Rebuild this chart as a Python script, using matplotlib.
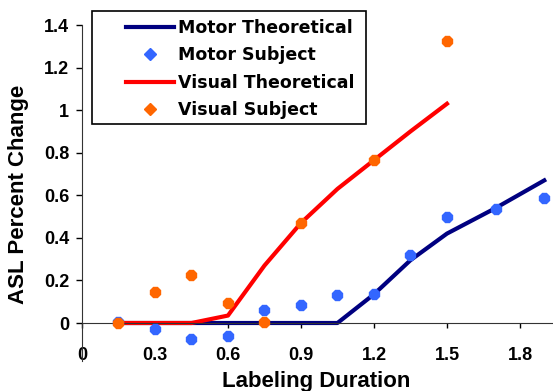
import matplotlib
matplotlib.use("Agg")
from matplotlib import pyplot as plt
from matplotlib.lines import Line2D
from matplotlib.patches import Rectangle

# values
motor_x = [0.15, 0.3, 0.45, 0.6, 0.75, 0.9, 1.05, 1.2, 1.35, 1.5, 1.7, 1.9]
motor_theory = [0, 0, 0, 0, 0, 0, 0, 0.135, 0.295, 0.42, 0.54, 0.67]
motor_subject = [0.005, -0.03, -0.075, -0.06, 0.06, 0.085, 0.13, 0.135, 0.32, 0.5, 0.535, 0.585]

visual_x = [0.15, 0.3, 0.45, 0.6, 0.75, 0.9, 1.05, 1.2, 1.35, 1.5]
visual_theory = [0, 0, 0, 0.035, 0.27, 0.47, 0.63, 0.765, 0.9, 1.03]
visual_subject = [0, 0.145, 0.225, 0.095, 0.005, 0.47, None, 0.765, None, 1.325]

xticks = [0, 0.3, 0.6, 0.9, 1.2, 1.5, 1.8]
xticklabels = ['0', '0.3', '0.6', '0.9', '1.2', '1.5', '1.8']
yticks = [0, 0.2, 0.4, 0.6, 0.8, 1.0, 1.2, 1.4]
yticklabels = ['0', '0.2', '0.4', '0.6', '0.8', '1', '1.2', '1.4']

navy = '#000080'
blue = '#3366FF'
red = '#FF0000'
orange = '#FF6600'

W, H = 553, 391
fig = plt.figure(figsize=(W / 100, H / 100), dpi=100)
# axes placed in pixels: y axis at x=82, y=1.4 at 25px, y=0 at 323px
ymin, ymax = -0.18, 1.4
ppu = (323 - 25) / 1.4
bottom_px = 323 + (-ymin) * ppu
ax = fig.add_axes([82 / W, (H - bottom_px) / H, (W - 82) / W, (bottom_px - 25) / H])
ax.set_xlim(0, (W - 82) / 243.3)
ax.set_ylim(ymin, ymax)

ax.plot(motor_x, motor_theory, color=navy, lw=3, zorder=2)
ax.plot(visual_x, visual_theory, color=red, lw=3, zorder=2.1)
ax.plot(motor_x, motor_subject, ls='none', marker='8', ms=8.5, color=blue, mec=blue, zorder=3)
vx = [x for x, y in zip(visual_x, visual_subject) if y is not None]
vy = [y for y in visual_subject if y is not None]
ax.plot(vx, vy, ls='none', marker='8', ms=8.5, color=orange, mec=orange, zorder=3.1)

for s in ['top', 'right']:
    ax.spines[s].set_visible(False)
ax.spines['bottom'].set_position(('data', 0))
ax.spines['bottom'].set_color('#333333')
ax.spines['left'].set_color('#333333')

tick_font = dict(family='Liberation Sans', weight='bold', size=13)
ax.set_xticks(xticks)
ax.set_xticklabels(xticklabels, fontdict=tick_font)
ax.set_yticks(yticks)
ax.set_yticklabels(yticklabels, fontdict=tick_font)
ax.tick_params(axis='x', direction='out', length=3.5, width=1, pad=14)
ax.tick_params(axis='y', direction='out', length=4.3, width=1, pad=5)

fig.text(316 / W, 1 - 382 / H, 'Labeling Duration', ha='center', va='center',
         family='Liberation Sans', weight='bold', size=16)
fig.text(19 / W, 1 - 194 / H, 'ASL Percent Change', ha='center', va='center',
         rotation=90, family='Liberation Sans', weight='bold', size=16)

handles = [
    Line2D([], [], color=navy, lw=3),
    Line2D([], [], ls='none', marker='D', ms=6, color=blue),
    Line2D([], [], color=red, lw=3),
    Line2D([], [], ls='none', marker='D', ms=6, color=orange),
]
labels = ['Motor Theoretical', 'Motor Subject', 'Visual Theoretical', 'Visual Subject']
leg = fig.legend(handles, labels, loc='upper left', bbox_to_anchor=(117 / W, 1 - 10 / H),
                 frameon=False, borderpad=0, handlelength=2.8, handletextpad=0.2,
                 labelspacing=0.55, prop=dict(family='DejaVu Sans', weight='bold', size=12.5))
fig.patches.append(Rectangle((92 / W, 1 - 124 / H), (366 - 92) / W, (124 - 11) / H,
                             transform=fig.transFigure, fill=False, ec='black', lw=1.2))

fig.savefig('out.png', dpi=100)
